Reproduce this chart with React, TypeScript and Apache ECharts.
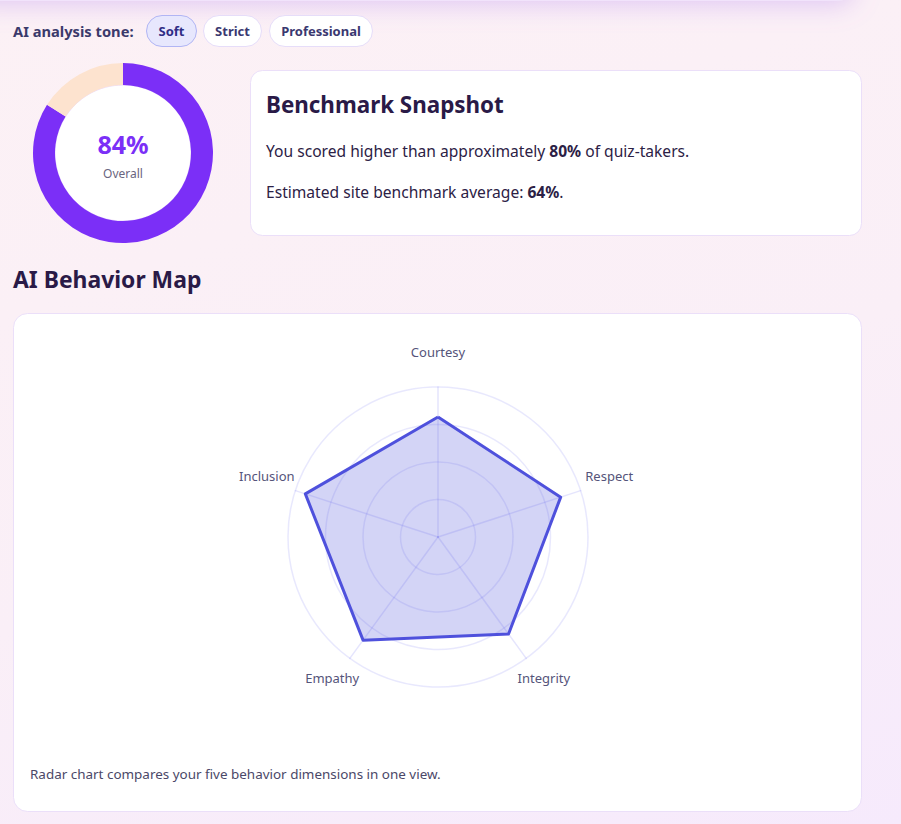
import React, { useEffect, useRef } from "react";
import * as echarts from "echarts";

const toneOptions = ["Soft", "Strict", "Professional"];
const activeTone = "Soft";
const overallScore = 84;
const percentile = 80;
const benchmarkAvg = 64;
const dimensions = ["Courtesy", "Respect", "Integrity", "Empathy", "Inclusion"];
const dimensionScores = [80, 86, 80, 85, 93];
const dimensionMax = 100;

const FONT = "'Noto Sans', 'DejaVu Sans', sans-serif";

export default function App() {
  const ref = useRef<HTMLDivElement>(null);

  useEffect(() => {
    document.body.style.margin = "0";
    if (!ref.current) return;
    const chart = echarts.init(ref.current, null, { renderer: "svg" });

    // ECharts radar runs counter-clockwise; reorder so the sequence runs clockwise from the top
    const n = dimensions.length;
    const order = dimensions.map((_, i) => (n - i) % n);
    const indicator = order.map((i) => ({ name: dimensions[i], max: dimensionMax }));
    const values = order.map((i) => dimensionScores[i]);

    const pillX = [146, 203, 269];
    const pillW = [50, 58, 103];
    const pills: any[] = [];
    toneOptions.forEach((t, i) => {
      const active = t === activeTone;
      pills.push({
        type: "rect",
        shape: { x: pillX[i] + 0.5, y: 15.5, width: pillW[i], height: 31, r: 15.5 },
        style: { fill: active ? "#e7e7fd" : "#ffffff", stroke: active ? "#b1b5f4" : "#e6ddf9", lineWidth: 1 },
      });
      pills.push({
        type: "text",
        x: pillX[i] + pillW[i] / 2 + 0.5,
        y: 31,
        style: { text: t, font: `bold 13px ${FONT}`, fill: active ? "#2f2d85" : "#3a3870", align: "center", verticalAlign: "middle" },
      });
    });

    chart.setOption({
      animation: false,
      backgroundColor: "transparent",
      graphic: [
        {
          type: "rect",
          shape: { x: -30, y: -40, width: 885, height: 41, r: 18 },
          style: { fill: "#f1e3fb", shadowBlur: 26, shadowColor: "rgba(170,120,240,0.35)", shadowOffsetY: 4 },
          z: 0,
        },
        {
          type: "text",
          x: 13,
          y: 31,
          style: { text: "AI analysis tone:", font: `bold 14.7px ${FONT}`, fill: "#3b3a6b", verticalAlign: "middle" },
        },
        ...pills,
        { type: "circle", shape: { cx: 123, cy: 153, r: 68 }, style: { fill: "#ffffff", stroke: "#ecdcfd", lineWidth: 1 }, z: 0 },
        {
          type: "text",
          x: 123,
          y: 144,
          style: { text: `${overallScore}%`, font: `bold 25px ${FONT}`, fill: "#7b2ff7", align: "center", verticalAlign: "middle" },
          z: 10,
        },
        {
          type: "text",
          x: 123,
          y: 173,
          style: { text: "Overall", font: `12px ${FONT}`, fill: "#6a6580", align: "center", verticalAlign: "middle" },
          z: 10,
        },
        {
          type: "rect",
          shape: { x: 250.5, y: 70.5, width: 611, height: 165, r: 12 },
          style: { fill: "#ffffff", stroke: "#ebdff9", lineWidth: 1 },
        },
        {
          type: "text",
          x: 266,
          y: 104,
          style: { text: "Benchmark Snapshot", font: `bold 22.4px ${FONT}`, fill: "#2a1a47", verticalAlign: "middle" },
        },
        {
          type: "text",
          x: 266,
          y: 151,
          style: {
            text: `{n|You scored higher than approximately }{b|${percentile}%}{n| of quiz-takers.}`,
            verticalAlign: "middle",
            rich: {
              n: { font: `15.6px ${FONT}`, fill: "#2c2145" },
              b: { font: `bold 15.6px ${FONT}`, fill: "#2c2145" },
            },
          },
        },
        {
          type: "text",
          x: 266,
          y: 192,
          style: {
            text: `{n|Estimated site benchmark average: }{b|${benchmarkAvg}%}{n|.}`,
            verticalAlign: "middle",
            rich: {
              n: { font: `15.6px ${FONT}`, fill: "#2c2145" },
              b: { font: `bold 15.6px ${FONT}`, fill: "#2c2145" },
            },
          },
        },
        {
          type: "text",
          x: 13,
          y: 279,
          style: { text: "AI Behavior Map", font: `bold 22.9px ${FONT}`, fill: "#2a1a47", verticalAlign: "middle" },
        },
        {
          type: "rect",
          shape: { x: 13.5, y: 313.5, width: 848, height: 498, r: 14 },
          style: { fill: "#ffffff", stroke: "#ebdff9", lineWidth: 1 },
          z: -1,
        },
        {
          type: "text",
          x: 30,
          y: 774,
          style: {
            text: "Radar chart compares your five behavior dimensions in one view.",
            font: `13.45px ${FONT}`,
            fill: "#4b4868",
            verticalAlign: "middle",
          },
        },
      ],
      radar: {
        center: [438, 537],
        radius: 150,
        startAngle: 90,
        splitNumber: 4,
        shape: "circle",
        indicator,
        nameGap: 30,
        axisName: {
          color: "#55547a",
          fontSize: 13,
          fontFamily: FONT,
          align: "center",
          verticalAlign: "bottom",
          lineHeight: 10,
        },
        splitArea: { show: false },
        splitLine: { lineStyle: { color: "rgba(99,102,241,0.15)", width: 1.5 } },
        axisLine: { lineStyle: { color: "rgba(99,102,241,0.17)", width: 1.5 } },
        axisTick: { show: false },
        axisLabel: { show: false },
      },
      series: [
        {
          type: "pie",
          center: [123, 153],
          radius: [68, 90],
          startAngle: 90,
          clockwise: true,
          silent: true,
          label: { show: false },
          labelLine: { show: false },
          data: [
            { value: overallScore, itemStyle: { color: "#7b2ff7" } },
            { value: 100 - overallScore, itemStyle: { color: "#fde3cf" } },
          ],
        },
        {
          type: "radar",
          symbol: "none",
          lineStyle: { color: "#4f51dd", width: 3 },
          areaStyle: { color: "rgba(79,82,221,0.25)", opacity: 1 },
          data: [{ value: values, name: "Your profile" }],
        },
      ],
    });

    return () => chart.dispose();
  }, []);

  return (
    <div
      ref={ref}
      style={{
        position: "absolute",
        left: 0,
        top: 0,
        width: 901,
        height: 824,
        background: "linear-gradient(160deg, #fcf1f5 0%, #faeff7 55%, #f6eafc 100%)",
      }}
    />
  );
}
